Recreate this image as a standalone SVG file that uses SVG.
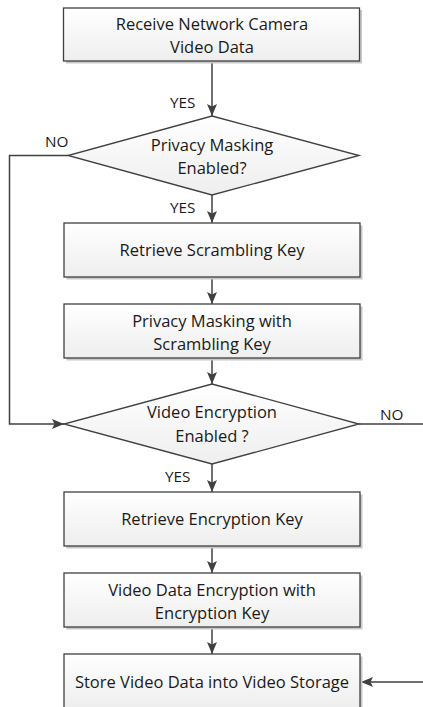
<svg xmlns="http://www.w3.org/2000/svg" width="423" height="707" viewBox="0 0 423 707">
  <style>
    .box { fill: url(#boxFill); stroke: #404040; stroke-width: 1.3; }
    .shadow { fill: #c8c8c8; }
    .label { font-family: "Open Sans", "Liberation Sans", sans-serif; font-size: 16.5px; fill: #1a1a1a; text-anchor: middle; }
    .tag { font-family: "Open Sans", "Liberation Sans", sans-serif; font-size: 15.3px; fill: #1a1a1a; }
    .wire { fill: none; stroke: #404040; stroke-width: 1.5; }
  </style>
  <defs>
    <linearGradient id="boxFill" x1="0" y1="0" x2="0" y2="1">
      <stop offset="0" stop-color="#ffffff"/>
      <stop offset="1" stop-color="#eeeeee"/>
    </linearGradient>
    <marker id="arrow" viewBox="0 0 12 10" refX="12" refY="5" markerWidth="12" markerHeight="10" markerUnits="userSpaceOnUse" orient="auto">
      <path d="M0,0 L12,5 L0,10 L2.5,5 Z" fill="#404040"/>
    </marker>
  </defs>
  <rect width="423" height="707" fill="#ffffff"/>

  <!-- connectors -->
  <g id="connectors">
    <line class="wire" x1="212" y1="61" x2="212" y2="116" marker-end="url(#arrow)"/>
    <line class="wire" x1="212" y1="195" x2="212" y2="223" marker-end="url(#arrow)"/>
    <line class="wire" x1="212" y1="277" x2="212" y2="304" marker-end="url(#arrow)"/>
    <line class="wire" x1="212" y1="358" x2="212" y2="384" marker-end="url(#arrow)"/>
    <line class="wire" x1="212" y1="464" x2="212" y2="492" marker-end="url(#arrow)"/>
    <line class="wire" x1="212" y1="546" x2="212" y2="573" marker-end="url(#arrow)"/>
    <line class="wire" x1="212" y1="627" x2="212" y2="654" marker-end="url(#arrow)"/>
    <polyline class="wire" points="68,155.5 9.5,155.5 9.5,424 64,424" marker-end="url(#arrow)"/>
    <line class="wire" x1="359" y1="424" x2="423" y2="424"/>
    <line class="wire" x1="423" y1="682" x2="361" y2="682" marker-end="url(#arrow)"/>
    <text class="tag" x="170" y="108">YES</text>
    <text class="tag" x="45" y="147">NO</text>
    <text class="tag" x="170" y="213">YES</text>
    <text class="tag" x="380" y="420">NO</text>
    <text class="tag" x="165" y="482">YES</text>
  </g>

  <g id="receive">
    <rect class="shadow" x="66" y="10" width="296" height="53.5"/>
    <rect class="box" x="63.5" y="8" width="296" height="53"/>
    <text class="label" x="212" y="30">Receive Network Camera</text>
    <text class="label" x="212" y="53">Video Data</text>
  </g>

  <g id="privacy-check">
    <polygon class="box" points="212,116 359,155.5 212,195 68,155.5"/>
    <text class="label" x="212" y="151">Privacy Masking</text>
    <text class="label" x="212" y="174">Enabled?</text>
  </g>

  <g id="retrieve-scrambling">
    <rect class="shadow" x="66.5" y="225.5" width="296" height="54"/>
    <rect class="box" x="64" y="223" width="296" height="54"/>
    <text class="label" x="212" y="256">Retrieve Scrambling Key</text>
  </g>

  <g id="privacy-masking">
    <rect class="shadow" x="66.5" y="306.5" width="296" height="54"/>
    <rect class="box" x="64" y="304" width="296" height="54"/>
    <text class="label" x="212" y="327">Privacy Masking with</text>
    <text class="label" x="212" y="350">Scrambling Key</text>
  </g>

  <g id="encryption-check">
    <polygon class="box" points="212,384 359,424 212,464 64,424"/>
    <text class="label" x="212" y="418">Video Encryption</text>
    <text class="label" x="212" y="442">Enabled ?</text>
  </g>

  <g id="retrieve-encryption">
    <rect class="shadow" x="66.5" y="494.5" width="296" height="54"/>
    <rect class="box" x="64" y="492" width="296" height="54"/>
    <text class="label" x="212" y="525">Retrieve Encryption Key</text>
  </g>

  <g id="encrypt-data">
    <rect class="shadow" x="66.5" y="575.5" width="296" height="54"/>
    <rect class="box" x="64" y="573" width="296" height="54"/>
    <text class="label" x="212" y="596">Video Data Encryption with</text>
    <text class="label" x="212" y="619">Encryption Key</text>
  </g>

  <g id="store-data">
    <rect class="shadow" x="66.5" y="656.5" width="296" height="54"/>
    <rect class="box" x="64" y="654" width="296" height="54"/>
    <text class="label" x="212" y="688">Store Video Data into Video Storage</text>
  </g>
</svg>
